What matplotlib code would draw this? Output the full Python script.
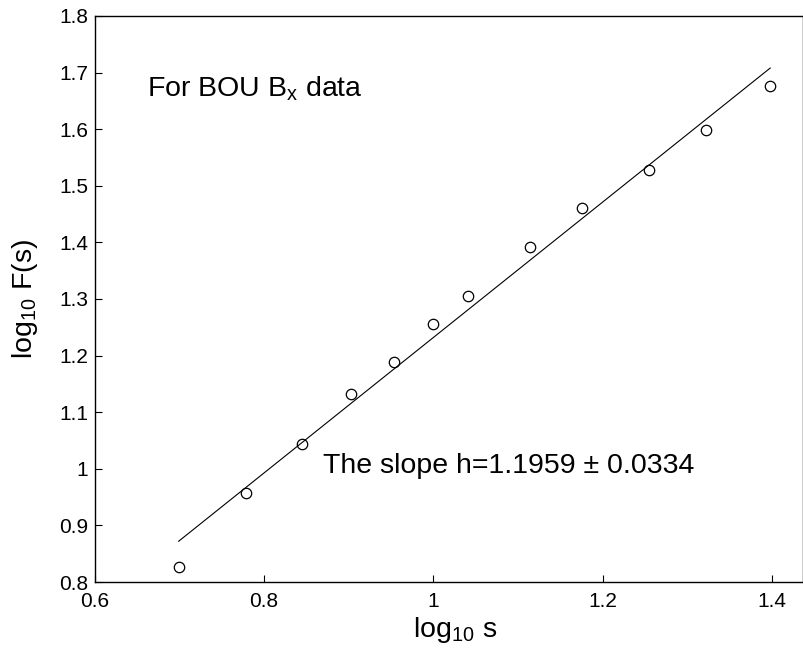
import matplotlib

matplotlib.use("Agg")
import matplotlib.pyplot as plt  # noqa: E402

# log10 of the window size s
log_s = [0.699, 0.778, 0.845, 0.903, 0.954, 1.000, 1.041, 1.114, 1.176, 1.255, 1.322, 1.398]
# log10 F(s)
log_f = [0.826, 0.957, 1.043, 1.132, 1.189, 1.255, 1.305, 1.391, 1.460, 1.528, 1.599, 1.676]

# fitted line end points (slope h = 1.1959)
fit_x = [0.699, 1.398]
fit_y = [0.872, 1.708]

x_ticks = [0.6, 0.8, 1.0, 1.2, 1.4]
x_tick_labels = ["0.6", "0.8", "1", "1.2", "1.4"]
y_ticks = [0.8, 0.9, 1.0, 1.1, 1.2, 1.3, 1.4, 1.5, 1.6, 1.7, 1.8]
y_tick_labels = ["0.8", "0.9", "1", "1.1", "1.2", "1.3", "1.4", "1.5", "1.6", "1.7", "1.8"]

plt.rcParams["font.family"] = ["Liberation Sans", "DejaVu Sans"]
plt.rcParams["mathtext.fontset"] = "custom"
plt.rcParams["mathtext.rm"] = "Liberation Sans"
plt.rcParams["mathtext.it"] = "Liberation Sans:italic"

fig = plt.figure(figsize=(8.04, 6.5), dpi=100)
ax = fig.add_axes([0.118, 0.1046, 0.881, 0.8708])

ax.plot(log_s, log_f, "o", mfc="none", mec="black", ms=7.5, mew=0.9)
ax.plot(fit_x, fit_y, "-", color="black", lw=0.8)

ax.set_xlim(0.6, 1.437)
ax.set_ylim(0.8, 1.8)
ax.set_xticks(x_ticks)
ax.set_xticklabels(x_tick_labels)
ax.set_yticks(y_ticks)
ax.set_yticklabels(y_tick_labels)
ax.tick_params(direction="in", length=5, width=0.8, labelsize=15, top=False, right=False)
ax.tick_params(axis="x", pad=7.5)
ax.tick_params(axis="y", pad=5)
for sp in ax.spines.values():
    sp.set_linewidth(1.0)

ax.set_xlabel(r"log$_{10}$ s", fontsize=20.5)
ax.set_ylabel(r"log$_{10}$ F(s)", fontsize=20.5)
ax.xaxis.set_label_coords(0.509, -0.058)
ax.yaxis.set_label_coords(-0.077, 0.5)

ax.text(0.6615, 1.657, r"For BOU B$_{\mathrm{x}}$ data", fontsize=20.5, va="baseline")
ax.text(0.8695, 0.992, "The slope h=1.1959 ± 0.0334", fontsize=20.5, va="baseline")

fig.savefig("out.png", dpi=100)
plt.close(fig)
